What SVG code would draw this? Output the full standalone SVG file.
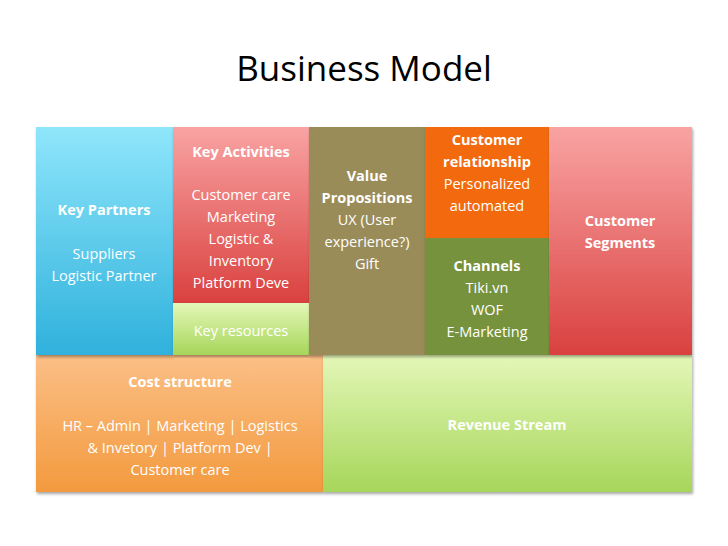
<svg xmlns="http://www.w3.org/2000/svg" width="728" height="546" viewBox="0 0 728 546">
<defs>
<linearGradient id="gBlue" x1="0" y1="0" x2="0" y2="1"><stop offset="0" stop-color="#8fe6fb"/><stop offset="1" stop-color="#2fb1dc"/></linearGradient>
<linearGradient id="gRed" x1="0" y1="0" x2="0" y2="1"><stop offset="0" stop-color="#f9a3a3"/><stop offset="1" stop-color="#d9413f"/></linearGradient>
<linearGradient id="gGreen" x1="0" y1="0" x2="0" y2="1"><stop offset="0" stop-color="#e4f7b8"/><stop offset="1" stop-color="#a6d65a"/></linearGradient>
<linearGradient id="gOrange" x1="0" y1="0" x2="0" y2="1"><stop offset="0" stop-color="#fbbf86"/><stop offset="1" stop-color="#f39a3e"/></linearGradient>
<filter id="sh" x="-5%" y="-5%" width="110%" height="110%"><feDropShadow dx="1" dy="2" stdDeviation="1.5" flood-opacity="0.35"/></filter>
</defs>
<style>
text{font-family:"Open Sans","Liberation Sans",sans-serif;fill:#fff;text-anchor:middle;font-size:14.5px}
.b{font-weight:bold}
rect{filter:url(#sh)}
</style>
<rect width="728" height="546" fill="#fff" style="filter:none"/>
<text x="364" y="81" style="fill:#000;font-size:35px;font-family:'Open Sans','Liberation Sans',sans-serif">Business Model</text>
<g id="cost"><rect x="36" y="355" width="287" height="137" fill="url(#gOrange)"/>
<text x="180" y="387" class="b">Cost structure</text>
<text x="180" y="431">HR – Admin | Marketing | Logistics</text>
<text x="180" y="453">&amp; Invetory | Platform Dev |</text>
<text x="180" y="475">Customer care</text></g>
<g id="revenue"><rect x="323" y="355" width="369" height="137" fill="url(#gGreen)"/>
<text x="507" y="430" class="b">Revenue Stream</text></g>
<g id="partners"><rect x="36" y="127" width="137" height="228" fill="url(#gBlue)"/>
<text x="104" y="215" class="b">Key Partners</text>
<text x="104" y="259">Suppliers</text>
<text x="104" y="281">Logistic Partner</text></g>
<g id="activities"><rect x="173" y="127" width="136" height="176" fill="url(#gRed)"/>
<text x="241" y="157" class="b">Key Activities</text>
<text x="241" y="200">Customer care</text>
<text x="241" y="222">Marketing</text>
<text x="241" y="244">Logistic &amp;</text>
<text x="241" y="266">Inventory</text>
<text x="241" y="288">Platform Deve</text></g>
<g id="resources"><rect x="173" y="303" width="136" height="52" fill="url(#gGreen)"/>
<text x="241" y="336">Key resources</text></g>
<g id="value"><rect x="309" y="127" width="116" height="228" fill="#9a8c58"/>
<text x="367" y="181" class="b">Value</text>
<text x="367" y="203" class="b">Propositions</text>
<text x="367" y="225">UX (User</text>
<text x="367" y="247">experience?)</text>
<text x="367" y="269">Gift</text></g>
<g id="relationship"><rect x="425" y="127" width="124" height="111" fill="#f26b0c"/>
<text x="487" y="145" class="b">Customer</text>
<text x="487" y="167" class="b">relationship</text>
<text x="487" y="189">Personalized</text>
<text x="487" y="211">automated</text></g>
<g id="channels"><rect x="425" y="238" width="124" height="117" fill="#77923c"/>
<text x="487" y="271" class="b">Channels</text>
<text x="487" y="293">Tiki.vn</text>
<text x="487" y="315">WOF</text>
<text x="487" y="337">E-Marketing</text></g>
<g id="segments"><rect x="549" y="127" width="143" height="228" fill="url(#gRed)"/>
<text x="620" y="226" class="b">Customer</text>
<text x="620" y="248" class="b">Segments</text></g>
<g id="connectors"/>
</svg>
